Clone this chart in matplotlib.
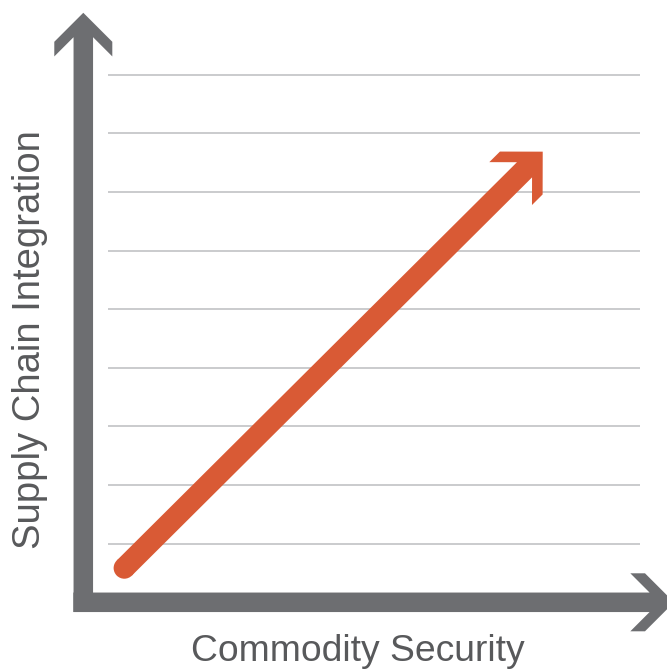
import numpy as np
import matplotlib
matplotlib.use("Agg")
import matplotlib.pyplot as plt
from matplotlib.patches import Polygon, Circle

# ---------------- data ----------------
grid_levels = [1, 2, 3, 4, 5, 6, 7, 8, 9]          # horizontal guide lines
grid_span = [0.42, 9.50]                            # x extent of guide lines
trend_x = [0.70, 7.84]                              # orange trend arrow (start, tip)
trend_y = [0.585, 7.69]
y_axis_span = [-0.165, 10.06]                       # vertical axis arrow
x_axis_span = [-0.17, 10.08]                        # horizontal axis arrow
x_label = "Commodity Security"
y_label = "Supply Chain Integration"

# ---------------- style ----------------
AXIS_GRAY = "#6d6e71"
GRID_GRAY = "#bcbdc0"
ORANGE = "#d95a35"
TEXT_GRAY = "#58595b"
FONT = ["Liberation Sans", "DejaVu Sans"]

W_PX, H_PX, DPI = 667, 669, 100
UNIT = 58.6                 # pixels per data unit
ORIGIN = (83.3, 602.3)      # pixel position of data origin (from top-left)


def chevron_arrow(ax, start, tip, width, leg, cut, color, round_start=False, z=3):
    s = np.array(start, float)
    t = np.array(tip, float)
    d = (t - s) / np.linalg.norm(t - s)
    n = np.array([-d[1], d[0]])
    c = np.sqrt(0.5)
    s_len = leg - (width / 2) / c
    pts = {}
    for sign in (1, -1):
        P = t + leg * (-d * c + sign * n * c)
        Q = P - cut * d
        R = Q + s_len * (d * c - sign * n * c)
        pts[sign] = (P, Q, R)
    verts = [s + n * width / 2, pts[1][2], pts[1][1], pts[1][0], t,
             pts[-1][0], pts[-1][1], pts[-1][2], s - n * width / 2]
    ax.add_patch(Polygon(verts, closed=True, facecolor=color, edgecolor="none",
                         zorder=z))
    if round_start:
        ax.add_patch(Circle(s, width / 2, facecolor=color, edgecolor="none", zorder=z))


fig = plt.figure(figsize=(W_PX / DPI, H_PX / DPI), dpi=DPI)
fig.patch.set_facecolor("white")
ax = fig.add_axes([0, 0, 1, 1])
ax.set_xlim(-ORIGIN[0] / UNIT, (W_PX - ORIGIN[0]) / UNIT)
ax.set_ylim(-(H_PX - ORIGIN[1]) / UNIT, ORIGIN[1] / UNIT)
ax.axis("off")

# guide lines
ax.hlines(grid_levels, grid_span[0], grid_span[1], colors=GRID_GRAY, lw=1.1, zorder=1)

# axes arrows
axis_w, axis_leg, axis_cut = 0.333, 0.70, 0.25
chevron_arrow(ax, (0, y_axis_span[0]), (0, y_axis_span[1]), axis_w, axis_leg, axis_cut, AXIS_GRAY)
chevron_arrow(ax, (x_axis_span[0], 0), (x_axis_span[1], 0), axis_w, axis_leg, axis_cut, AXIS_GRAY)

# trend arrow
chevron_arrow(ax, (trend_x[0], trend_y[0]), (trend_x[1], trend_y[1]), 0.365, 0.73, 0.256,
              ORANGE, round_start=True, z=2)

# labels
fig.text(357.5 / W_PX, (H_PX - 661) / H_PX, x_label, ha="center", va="baseline",
         fontsize=26.8, color=TEXT_GRAY, family=FONT)
fig.text(12 / W_PX, (H_PX - 340) / H_PX, y_label, ha="left", va="center", rotation=90,
         fontsize=27.5, color=TEXT_GRAY, family=FONT)

fig.savefig("out.png", dpi=DPI, facecolor="white")
